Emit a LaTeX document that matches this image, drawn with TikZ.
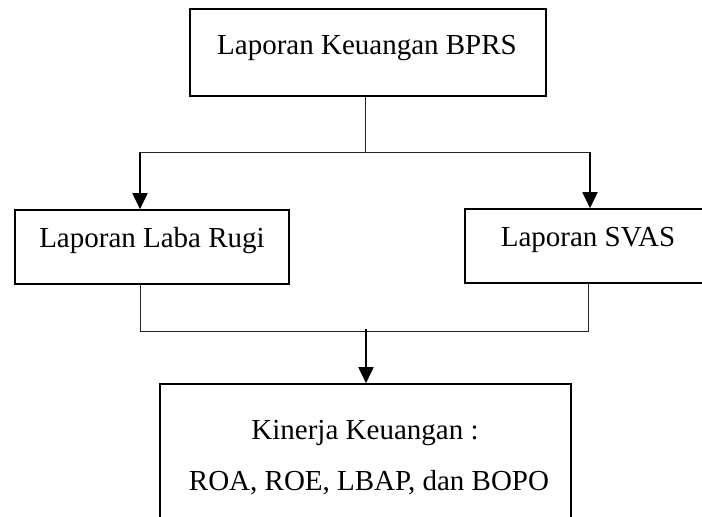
\documentclass[tikz,border=0pt]{standalone}
\usepackage{fontspec}
\setmainfont{Liberation Serif}
\usetikzlibrary{arrows.meta}
\begin{document}
\begin{tikzpicture}[x=1pt,y=-1pt,
  box/.style={draw=black, line width=1.6pt, rectangle, inner sep=0pt},
  lbl/.style={inner sep=0pt, anchor=base, font=\fontsize{29}{35}\selectfont},
  thin/.style={draw=black!85, line width=0.9pt},
  arr/.style={draw=black, line width=1.8pt, -{Triangle[length=16pt,width=15pt]}}]
\useasboundingbox (0,0) rectangle (702,517);
% boxes
\node[box, minimum width=356pt, minimum height=87pt] (top) at (368,52.5) {};
\node[box, minimum width=274pt, minimum height=74pt] (left) at (152,247) {};
\node[box, minimum width=335pt, minimum height=74pt] (right) at (632.5,246) {};
\node[box, minimum width=411pt, minimum height=156pt] (bottom) at (365.5,462) {};
% texts
\node[lbl] (toptxt) at (367,54) {Laporan Keuangan BPRS};
\node[lbl] (lefttxt) at (152,247) {Laporan Laba Rugi};
\node[lbl] (righttxt) at (588,246.5) {Laporan SVAS};
\node[lbl] (bottxt1) at (365,439) {Kinerja Keuangan :};
\node[lbl] (bottxt2) at (369,490) {ROA, ROE, LBAP, dan BOPO};
% upper connectors
\coordinate (j1) at (365,152);
\coordinate (cl) at (140,152);
\coordinate (cr) at (590,152);
\draw[thin] (j1 |- top.south) -- (j1);
\draw[thin] (cl) -- (cr);
\draw[arr] (cl) -- (cl |- left.north);
\draw[arr] (cr) -- (cr |- right.north);
% lower connectors
\coordinate (bl) at (140,331);
\coordinate (br) at (588,331);
\coordinate (m) at (366,329);
\draw[thin] (bl |- left.south) -- (bl) -- (br) -- (br |- right.south);
\draw[arr] (m) -- (m |- bottom.north);
\end{tikzpicture}
\end{document}
